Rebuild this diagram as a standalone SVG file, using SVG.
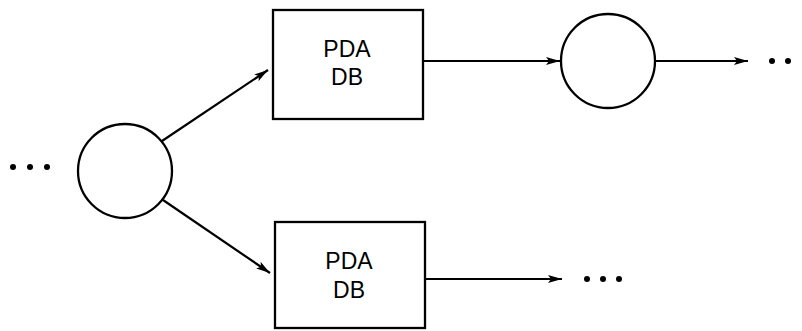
<svg xmlns="http://www.w3.org/2000/svg" width="802" height="331" viewBox="0 0 802 331">
<style>
.n{fill:#fff;stroke:#000;stroke-width:2.3}
.c{stroke:#000;stroke-width:2.2;fill:none}
.t{font-family:"Liberation Sans",Arial,sans-serif;font-size:23px;text-anchor:middle;fill:#000}
.d{fill:#000}
</style>
<defs>
<marker id="a" viewBox="0 0 14 8" refX="14" refY="4" markerWidth="14" markerHeight="8" markerUnits="userSpaceOnUse" orient="auto">
<path d="M0,0 L14,4 L0,8 L3,4 Z" fill="#000"/>
</marker>
</defs>
<g id="dotsLeft" class="d"><circle cx="13" cy="167" r="3"/><circle cx="30" cy="167" r="3"/><circle cx="47" cy="167" r="3"/></g>
<g id="circle1"><circle class="n" cx="125" cy="171" r="47"/></g>
<g id="box1"><rect class="n" x="273" y="10" width="150" height="109"/><text class="t" x="347" y="57">PDA</text><text class="t" x="347" y="85">DB</text></g>
<g id="circle2"><circle class="n" cx="608" cy="61" r="47"/></g>
<g id="box2"><rect class="n" x="275" y="222" width="150" height="106"/><text class="t" x="349" y="269">PDA</text><text class="t" x="349" y="298">DB</text></g>
<g id="dotsRight" class="d"><circle cx="772" cy="61" r="3"/><circle cx="788" cy="61" r="3"/></g>
<g id="dotsBottom" class="d"><circle cx="587" cy="279" r="3"/><circle cx="603" cy="279" r="3"/><circle cx="619" cy="279" r="3"/></g>
<g id="connectors">
<line class="c" x1="162" y1="141" x2="268" y2="70" marker-end="url(#a)"/>
<line class="c" x1="163" y1="200" x2="270" y2="273" marker-end="url(#a)"/>
<line class="c" x1="423" y1="61" x2="560" y2="61" marker-end="url(#a)"/>
<line class="c" x1="655" y1="61" x2="748" y2="61" marker-end="url(#a)"/>
<line class="c" x1="425" y1="279" x2="562" y2="279" marker-end="url(#a)"/>
</g>
</svg>
